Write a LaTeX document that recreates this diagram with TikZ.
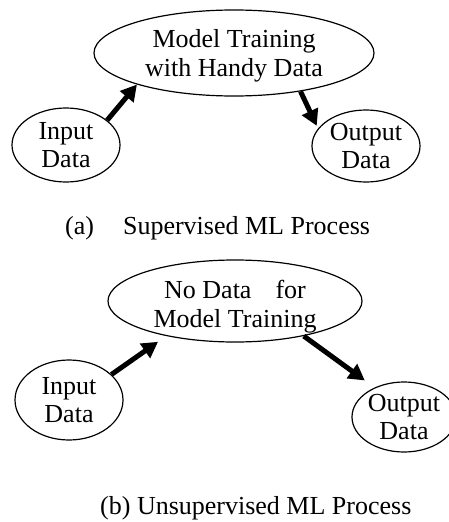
\documentclass[tikz,border=0pt]{standalone}
\usepackage{fontspec}
\setmainfont{Liberation Serif}
\usetikzlibrary{arrows.meta, shapes.geometric}
\tikzset{
  >={Triangle[length=16pt, width=17pt]},
  every picture/.style={line join=round},
  % process bubbles
  bubble/.style={draw, ellipse, line width=1.2pt, inner sep=0pt, align=center,
    font=\fontsize{26}{28}\selectfont},
  bubbletext/.style={inner sep=0pt, align=center, font=\fontsize{26}{29}\selectfont},
  flow/.style={->, line width=5pt, line cap=butt},
  caption/.style={anchor=base west, inner sep=0pt, font=\fontsize{26}{28}\selectfont},
}
\begin{document}
\begin{tikzpicture}[x=1pt, y=-1pt]
  \useasboundingbox (0,0) rectangle (449,522);
  % (a) supervised
  \node[bubble, minimum width=280pt, minimum height=86pt] (trainA) at (234,53) {};
  \node[bubbletext] (trainAtxt) at ([yshift=-3pt]trainA.center) {Model Training\\with Handy Data};
  \node[bubble, minimum width=108pt, minimum height=74pt] (inA) at (66,145) {Input\\Data};
  \node[bubble, minimum width=108pt, minimum height=72pt] (outA) at (366,146) {Output\\Data};
  \draw[flow] (inA.31) -- (trainA.198);
  \draw[flow, shorten >=3pt] (trainA.330) -- (outA.160);
  \node[caption] (capA) at (65,234) {(a)\hspace{29pt}Supervised ML Process};
  % (b) unsupervised
  \node[bubble, minimum width=254pt, minimum height=82pt] (trainB) at (235,301) {};
  \node[bubbletext] (trainBtxt) at ([yshift=-6pt]trainB.center) {No Data\hspace{24pt}for\\Model Training};
  \node[bubble, minimum width=108pt, minimum height=80pt] (inB) at (69,400) {Input\\Data};
  \node[bubble, minimum width=104pt, minimum height=70pt] (outB) at (404,417) {Output\\Data};
  \draw[flow, shorten >=10pt] (inB.31) -- (trainB.207);
  \draw[flow, shorten >=12pt] (trainB.333) -- (outB.135);
  \node[caption] (capB) at (100,514) {(b) Unsupervised ML Process};
\end{tikzpicture}
\end{document}
